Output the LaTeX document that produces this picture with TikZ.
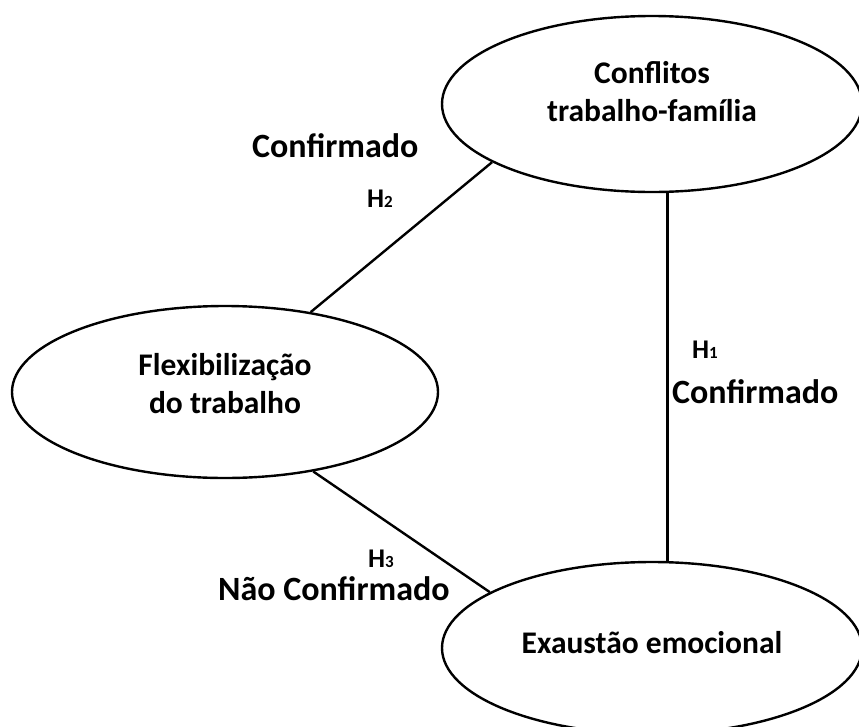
\documentclass[tikz,border=0pt]{standalone}
\usepackage{fontspec}
\setmainfont{Carlito}
\usepackage{tikz}
\usetikzlibrary{shapes.geometric,positioning}

\begin{document}
\begin{tikzpicture}[x=1pt, y=-1pt]
                \tikzstyle{construct} = [draw, ellipse, line width=2.4pt, inner sep=0pt, align=center, font=\bfseries\fontsize{31.5}{38}\selectfont]
                \tikzstyle{result} = [anchor=base west, inner sep=0pt, font=\bfseries\fontsize{34}{40}\selectfont]
                \tikzstyle{hyp} = [anchor=base west, inner sep=0pt, font=\bfseries\fontsize{27}{30}\selectfont]
                \tikzstyle{link} = [line width=2.4pt]
                \useasboundingbox (0,0) rectangle (859,726);

                \node [construct, minimum width=420pt, minimum height=176pt, text depth=26pt] (conflitos) at (652,104) {Conflitos\\trabalho-família};
                \node [construct, minimum width=426pt, minimum height=172pt, text depth=18pt] (flex) at (225,392) {Flexibilização\\do trabalho};
                \node [construct, minimum width=420pt, minimum height=172pt, text depth=12pt] (exaustao) at (652,648) {Exaustão emocional};

                \node [result] (conf-h2) at (252,157) {Confirmado};
                \node [hyp] (h2) at (367,207) {H{\fontsize{17}{17}\selectfont 2}};
                \node [hyp] (h1) at (692,358) {H{\fontsize{17}{17}\selectfont 1}};
                \node [result] (conf-h1) at (672,403) {Confirmado};
                \node [hyp] (h3) at (368,567) {H{\fontsize{17}{17}\selectfont 3}};
                \node [result] (nao-conf-h3) at (218,600) {Não Confirmado};

                \draw [link] (conflitos.200) -- (flex.43);
                \draw [link] (flex.-42) -- (exaustao.161);
                \draw [link] (conflitos.280) -- (conflitos.280 |- exaustao.north);
                \end{tikzpicture}
\end{document}
